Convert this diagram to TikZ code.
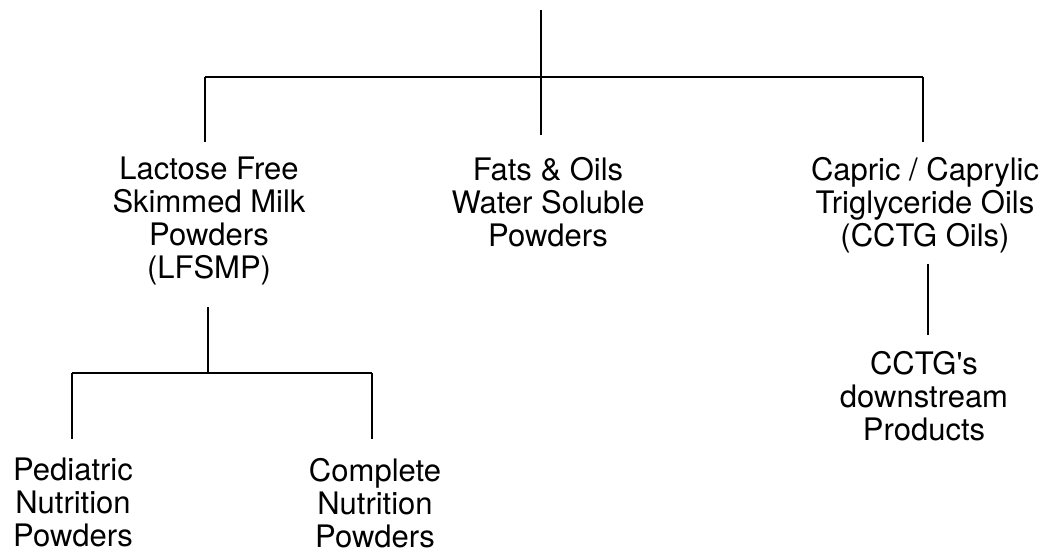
\documentclass[tikz,border=0pt]{standalone}
\usepackage{fontspec}
\setmainfont{TeX Gyre Heros}[Ligatures=TeXOff]
\begin{document}
\begin{tikzpicture}[x=1pt,y=-1pt,
  wire/.style={line width=2.2pt},
  lbl/.style={align=center, inner sep=0pt, outer sep=0pt, anchor=north,
    font=\fontsize{31}{33}\selectfont}]
\useasboundingbox[fill=white] (0,0) rectangle (1046,558);
% nodes
\node[lbl] (lf)  at (209,157) {Lactose Free\\Skimmed Milk\\Powders\\(LFSMP)};
\node[lbl] (fo)  at (548,157) {Fats \& Oils\\Water Soluble\\Powders};
\node[lbl] (cc)  at (925,157) {Capric / Caprylic\\Triglyceride Oils\\(CCTG Oils)};
\node[lbl] (ped) at (73,458)  {Pediatric\\Nutrition\\Powders};
\node[lbl] (cmp) at (375,458) {Complete\\Nutrition\\Powders};
\node[lbl] (ds)  at (924,351) {CCTG's\\downstream\\Products};
% junctions
\coordinate (top) at (541,10);
\coordinate (jL) at (205,77);
\coordinate (jR) at (923,77);
\coordinate (jS) at (208,373);
\coordinate (jP) at (72,373);
\coordinate (jC) at (372,373);
\coordinate (jD) at (928,300);
% connectors
\draw[wire, shorten >=22pt] (top) -- (top |- fo.north);
\draw[wire] (jL) -- (jR);
\draw[wire, shorten >=15pt] (jL) -- (jL |- lf.north);
\draw[wire, shorten >=15pt] (jR) -- (jR |- cc.north);
\draw[wire, shorten <=22pt] (jS |- lf.south) -- (jS);
\draw[wire] (jP) -- (jC);
\draw[wire, shorten >=19pt] (jP) -- (jP |- ped.north);
\draw[wire, shorten >=19pt] (jC) -- (jC |- cmp.north);
\draw[wire, shorten <=11pt, shorten >=16pt] (jD |- cc.south) -- (jD |- ds.north);
\end{tikzpicture}
\end{document}
